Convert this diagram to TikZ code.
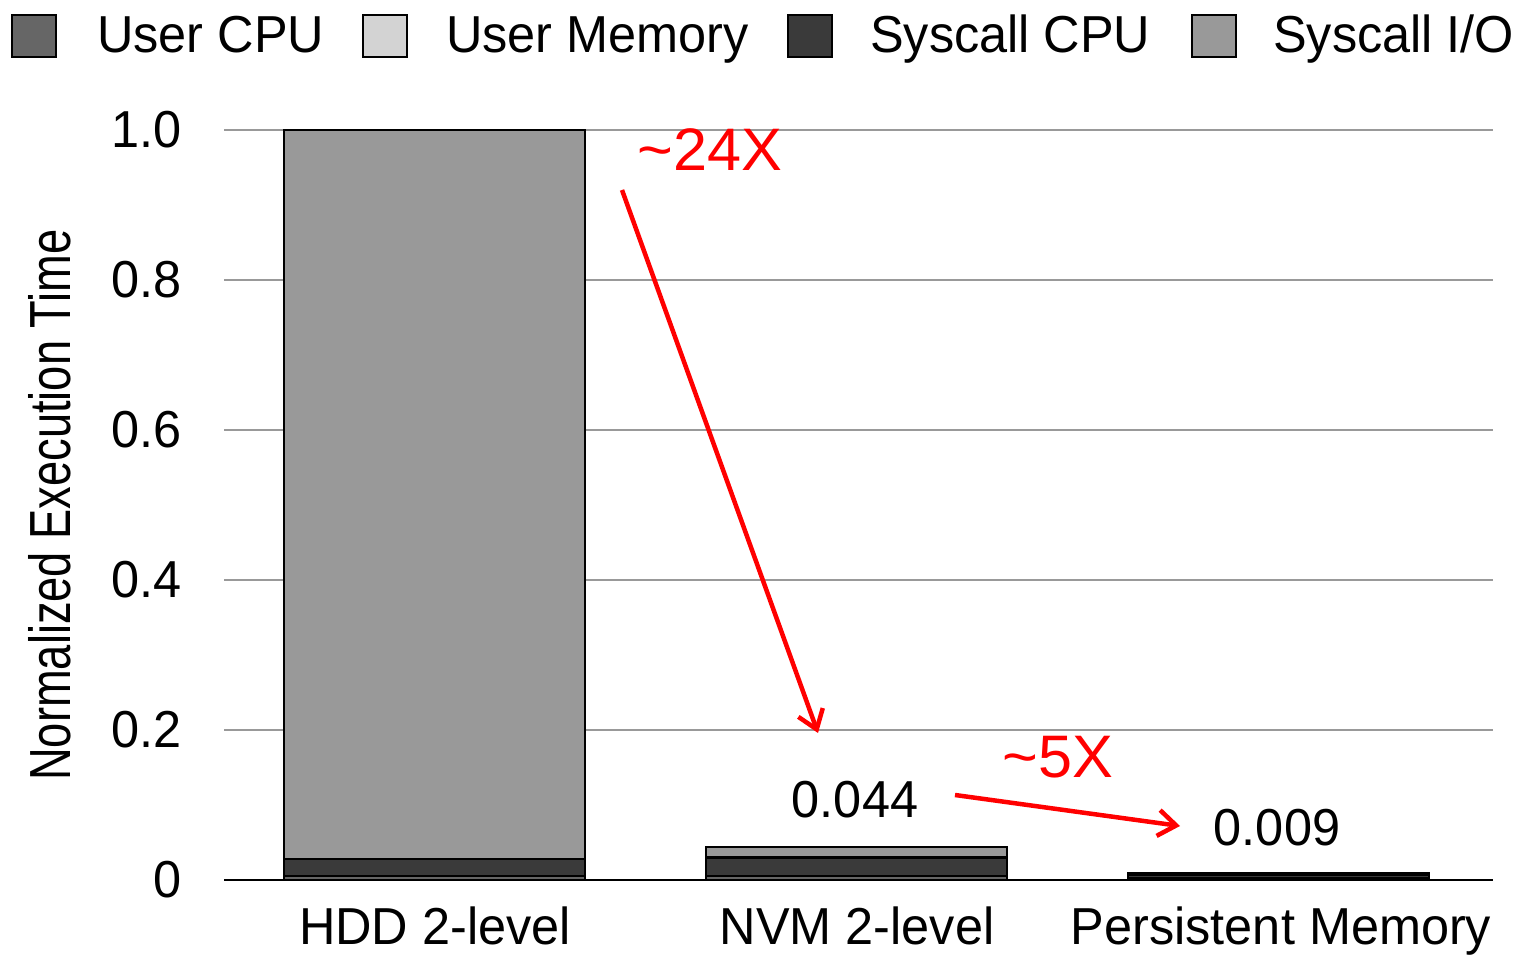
\documentclass[tikz,border=0pt]{standalone}
\usepackage{fontspec}
\setmainfont{Liberation Sans}[FakeStretch=0.97]
\newfontfamily\narrowfont{Liberation Sans}[FakeStretch=0.78]
\newfontfamily\widefont{Liberation Sans}[FakeStretch=1.02]
\usetikzlibrary{arrows.meta}

\begin{document}
\begin{tikzpicture}[x=1pt,y=1pt,
  font=\fontsize{52}{60}\selectfont,
  grid line/.style={draw=black!40,line width=1.5pt},
  bar part/.style={draw=black,line width=2.5pt},
  key box/.style={draw=black,line width=2pt,minimum width=44pt,minimum height=42pt,inner sep=0pt},
  key text/.style={anchor=base west,inner sep=0pt},
  tick label/.style={anchor=east,inner sep=0pt},
  speedup label/.style={red,font=\widefont\fontsize{60}{66}\selectfont},
  speedup/.style={red,line width=4.5pt,-{Straight Barb[length=18pt,width=26pt]}}]
\useasboundingbox (0,0) rectangle (1526,957);
\definecolor{usercpu}{HTML}{666666}
\definecolor{usermem}{HTML}{D3D3D3}
\definecolor{syscpu}{HTML}{3A3A3A}
\definecolor{sysio}{HTML}{999999}
% grid and y axis
\foreach \v/\t in {0/0,1/0.2,2/0.4,3/0.6,4/0.8,5/1.0} {
  \draw[grid line] (224,77+150*\v) -- (1493,77+150*\v);
  \node[tick label] (tick\v) at (182,77+150*\v) {\t};
}
\node[rotate=90,font=\narrowfont\fontsize{58}{64}\selectfont] (ylabel) at (50,452) {Normalized Execution Time};
% bars: x left, then user cpu, syscall cpu, syscall io tops (in units of 750)
\foreach \x/\a/\b/\c in {284/0.005/0.028/1.0, 706/0.005/0.03/0.044, 1128/0.002/0.007/0.009} {
  \draw[bar part,fill=usercpu] (\x,77) rectangle (\x+301,77+750*\a);
  \draw[bar part,fill=syscpu] (\x,77+750*\a) rectangle (\x+301,77+750*\b);
  \draw[bar part,fill=sysio] (\x,77+750*\b) rectangle (\x+301,77+750*\c);
}
\draw[black,line width=2pt] (224,77) -- (1493,77);
% x labels
\node[anchor=base] (hdd) at (435,12) {HDD 2-level};
\node[anchor=base] (nvm) at (857,12) {NVM 2-level};
\node[anchor=base] (pm) at (1281,12) {Persistent Memory};
% values
\node (nvmval) at (855,157) {0.044};
\node (pmval) at (1277,129) {0.009};
% speedups
\node[speedup label] (big) at (710,807) {\textasciitilde 24X};
\node[speedup label] (small) at (1058,200) {\textasciitilde 5X};
\coordinate (bigfrom) at (622,767);
\coordinate (bigto) at (818,224);
\coordinate (smallfrom) at (955,162);
\coordinate (smallto) at (1180,131);
\draw[speedup] (bigfrom) -- (bigto);
\draw[speedup] (smallfrom) -- (smallto);
% legend
\node[key box,fill=usercpu] (k1) at (34,921) {};
\node[key text] (l1) at (97,904) {User CPU};
\node[key box,fill=usermem] (k2) at (385,921) {};
\node[key text] (l2) at (446,904) {User Memory};
\node[key box,fill=syscpu] (k3) at (810,921) {};
\node[key text] (l3) at (870,904) {Syscall CPU};
\node[key box,fill=sysio] (k4) at (1214,921) {};
\node[key text] (l4) at (1273,904) {Syscall I/O};
\end{tikzpicture}
\end{document}
